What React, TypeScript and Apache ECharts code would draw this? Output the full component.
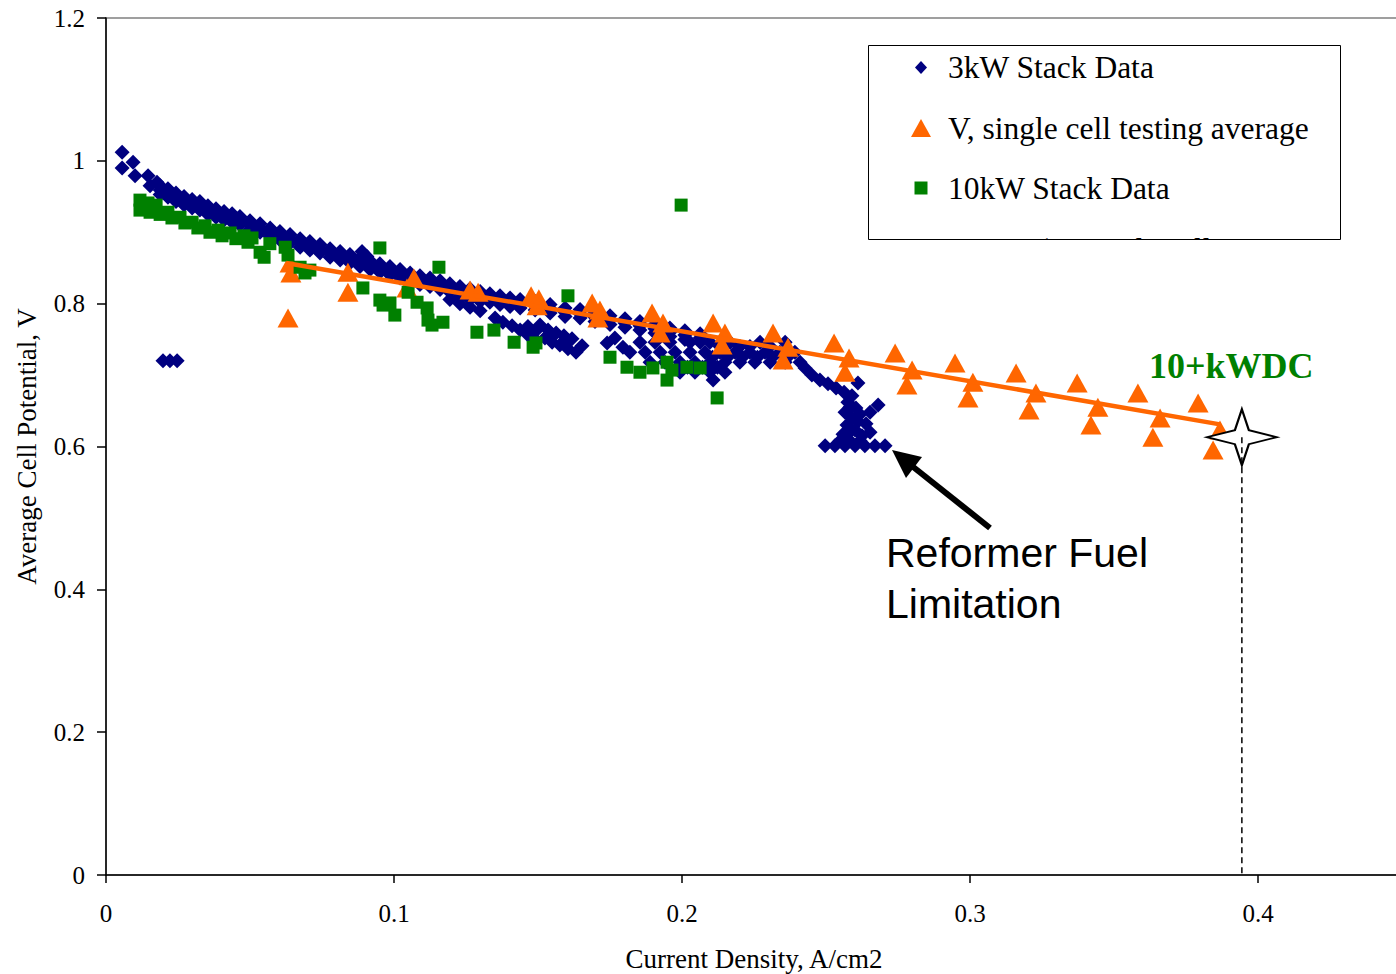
import React, { useEffect, useRef } from "react";
import * as echarts from "echarts";

// 3kW Stack Data (A/cm2, V)
const blue3kW: [number, number][] = [
  [0.0056, 1.012], [0.0056, 0.99], [0.0094, 0.998], [0.0101, 0.979], [0.0146, 0.979], [0.0153, 0.965], [0.0177, 0.97],
  [0.0198, 0.72], [0.0222, 0.72], [0.0247, 0.72],
  [0.0188, 0.965], [0.0188, 0.953], [0.0215, 0.961], [0.0215, 0.949], [0.0243, 0.955], [0.0243, 0.943],
  [0.0271, 0.95], [0.0271, 0.938], [0.0299, 0.946], [0.0299, 0.934], [0.0326, 0.943], [0.0326, 0.931],
  [0.0354, 0.937], [0.0354, 0.925], [0.0382, 0.933], [0.0382, 0.921], [0.041, 0.929], [0.041, 0.917],
  [0.0438, 0.926], [0.0438, 0.914], [0.0465, 0.922], [0.0465, 0.91], [0.05, 0.916], [0.05, 0.904],
  [0.0535, 0.912], [0.0535, 0.9], [0.057, 0.906], [0.057, 0.894], [0.0604, 0.901], [0.0604, 0.889],
  [0.0639, 0.897], [0.0639, 0.885], [0.0674, 0.891], [0.0674, 0.879], [0.0708, 0.887], [0.0708, 0.875],
  [0.0743, 0.883], [0.0743, 0.871], [0.0778, 0.877], [0.0778, 0.865], [0.0813, 0.873], [0.0813, 0.861],
  [0.0847, 0.869], [0.0847, 0.857], [0.0882, 0.864], [0.0882, 0.852], [0.0889, 0.873], [0.0906, 0.866],
  [0.0917, 0.86], [0.0917, 0.848], [0.0951, 0.856], [0.0951, 0.844], [0.0986, 0.852], [0.0986, 0.84],
  [0.1021, 0.848], [0.1021, 0.836], [0.1056, 0.843], [0.1056, 0.831], [0.109, 0.839], [0.109, 0.827],
  [0.1125, 0.836], [0.1125, 0.824], [0.116, 0.832], [0.116, 0.82], [0.1194, 0.828], [0.1194, 0.816], [0.1194, 0.806],
  [0.1229, 0.824], [0.1229, 0.81], [0.1229, 0.8], [0.1264, 0.821], [0.1264, 0.806], [0.1264, 0.795],
  [0.1299, 0.817], [0.1299, 0.803], [0.1299, 0.79],
  [0.0188, 0.959], [0.0215, 0.955], [0.0243, 0.949], [0.0271, 0.944], [0.0299, 0.94], [0.0326, 0.937],
  [0.0354, 0.931], [0.0382, 0.927], [0.041, 0.923], [0.0438, 0.92], [0.0465, 0.916], [0.05, 0.91],
  [0.0535, 0.906], [0.057, 0.9], [0.0604, 0.895], [0.0639, 0.891], [0.0674, 0.885], [0.0708, 0.881],
  [0.0743, 0.877], [0.0778, 0.871], [0.0813, 0.867], [0.0847, 0.863], [0.0882, 0.858], [0.0917, 0.854],
  [0.0951, 0.85], [0.0986, 0.846], [0.1021, 0.842], [0.1056, 0.837], [0.109, 0.833], [0.1125, 0.83],
  [0.116, 0.826], [0.1194, 0.822], [0.1229, 0.817], [0.1264, 0.813], [0.1299, 0.81],
  [0.1333, 0.808], [0.1368, 0.805], [0.1403, 0.802], [0.1438, 0.8], [0.149, 0.797], [0.1542, 0.793],
  [0.1594, 0.788], [0.1646, 0.786], [0.1698, 0.781], [0.175, 0.777], [0.1802, 0.773], [0.1854, 0.769],
  [0.1906, 0.765], [0.1958, 0.76], [0.201, 0.756], [0.2063, 0.752],
  [0.1333, 0.814], [0.1333, 0.802], [0.1368, 0.811], [0.1368, 0.799], [0.1403, 0.808], [0.1403, 0.796],
  [0.1438, 0.806], [0.1438, 0.794], [0.149, 0.803], [0.149, 0.791], [0.1542, 0.799], [0.1542, 0.787],
  [0.1594, 0.794], [0.1594, 0.782], [0.1646, 0.792], [0.1646, 0.78], [0.1698, 0.787], [0.1698, 0.775],
  [0.175, 0.783], [0.175, 0.771], [0.1802, 0.779], [0.1802, 0.767], [0.1854, 0.775], [0.1854, 0.763],
  [0.1906, 0.771], [0.1906, 0.759], [0.1958, 0.766], [0.1958, 0.754], [0.201, 0.762], [0.201, 0.75],
  [0.2063, 0.758], [0.2063, 0.746],
  [0.1351, 0.78], [0.1378, 0.774], [0.141, 0.769], [0.1438, 0.763], [0.1465, 0.756], [0.1493, 0.749],
  [0.1524, 0.752], [0.1549, 0.746], [0.1576, 0.742], [0.1604, 0.737], [0.1632, 0.732], [0.1653, 0.741],
  [0.1507, 0.77], [0.1535, 0.763], [0.1563, 0.759], [0.159, 0.755], [0.1618, 0.751],
  [0.1465, 0.768], [0.1493, 0.762], [0.1549, 0.756], [0.1604, 0.748],
  [0.174, 0.745], [0.1767, 0.752], [0.1795, 0.739],
  [0.1854, 0.746], [0.1906, 0.746], [0.1958, 0.746], [0.2028, 0.746], [0.2097, 0.746], [0.2167, 0.746], [0.2271, 0.746], [0.2358, 0.746],
  [0.2132, 0.74], [0.2201, 0.74], [0.2236, 0.74], [0.2306, 0.74],
  [0.1819, 0.732], [0.1872, 0.732], [0.1924, 0.732], [0.1976, 0.732], [0.2028, 0.732], [0.208, 0.732],
  [0.2132, 0.732], [0.2184, 0.732], [0.2236, 0.732], [0.2288, 0.732], [0.234, 0.732], [0.2392, 0.732],
  [0.2106, 0.725], [0.2158, 0.725], [0.221, 0.725], [0.2262, 0.725], [0.2314, 0.725], [0.2366, 0.725],
  [0.1889, 0.718], [0.1941, 0.718], [0.1993, 0.718], [0.2045, 0.718], [0.2097, 0.718], [0.2149, 0.718],
  [0.2201, 0.718], [0.2253, 0.718], [0.2306, 0.718], [0.2358, 0.718], [0.241, 0.718],
  [0.2019, 0.711], [0.2071, 0.711], [0.2123, 0.711],
  [0.1993, 0.704], [0.2045, 0.704], [0.2097, 0.704], [0.2149, 0.704], [0.2108, 0.693],
  [0.2427, 0.71], [0.2451, 0.7], [0.2479, 0.693], [0.2507, 0.688], [0.2535, 0.682], [0.2563, 0.676],
  [0.259, 0.671], [0.2611, 0.689], [0.2576, 0.662], [0.2604, 0.654], [0.2566, 0.648], [0.259, 0.64],
  [0.2618, 0.645], [0.2573, 0.63], [0.2601, 0.623], [0.2559, 0.617], [0.2625, 0.615], [0.2681, 0.658],
  [0.2653, 0.648], [0.2639, 0.632], [0.2653, 0.62], [0.2583, 0.655], [0.2611, 0.635], [0.2587, 0.622],
  [0.2497, 0.601], [0.2531, 0.601], [0.2566, 0.601], [0.2601, 0.601], [0.2635, 0.601], [0.267, 0.601], [0.2705, 0.601],
  [0.2549, 0.608], [0.2583, 0.608], [0.2618, 0.608],
];

// V, single cell testing average
const orangeSingle: [number, number][] = [
  [0.0632, 0.78], [0.0639, 0.857], [0.0642, 0.843], [0.084, 0.844], [0.084, 0.816],
  [0.1069, 0.836], [0.1045, 0.822], [0.1264, 0.819], [0.1292, 0.816],
  [0.1476, 0.811], [0.1503, 0.807], [0.1497, 0.797],
  [0.1688, 0.801], [0.1715, 0.791], [0.1708, 0.78],
  [0.1896, 0.787], [0.1934, 0.773], [0.1924, 0.759],
  [0.2108, 0.773], [0.2149, 0.759], [0.2139, 0.742],
  [0.2316, 0.759], [0.2368, 0.739], [0.2351, 0.721],
  [0.2528, 0.745], [0.258, 0.724], [0.2566, 0.704],
  [0.274, 0.731], [0.2799, 0.707], [0.2781, 0.686],
  [0.2948, 0.717], [0.301, 0.69], [0.2993, 0.668],
  [0.316, 0.703], [0.3229, 0.675], [0.3205, 0.651],
  [0.3372, 0.689], [0.3444, 0.655], [0.342, 0.63],
  [0.3583, 0.675], [0.366, 0.64], [0.3635, 0.613],
  [0.3792, 0.661], [0.3868, 0.623], [0.3844, 0.595],
];

// 10kW Stack Data
const green10kW: [number, number][] = [
  [0.0118, 0.945], [0.0118, 0.931], [0.0146, 0.941], [0.0153, 0.928], [0.0174, 0.938], [0.0188, 0.925],
  [0.0215, 0.928], [0.0229, 0.92], [0.0257, 0.921], [0.0274, 0.913], [0.0299, 0.914], [0.0319, 0.906],
  [0.0344, 0.909], [0.0361, 0.9], [0.0389, 0.903], [0.0403, 0.895], [0.0431, 0.899], [0.0451, 0.891],
  [0.0479, 0.895], [0.0493, 0.886], [0.0507, 0.892], [0.0535, 0.872], [0.0549, 0.865], [0.0569, 0.884],
  [0.0622, 0.879], [0.0632, 0.868], [0.0674, 0.851], [0.0691, 0.843], [0.0708, 0.847],
  [0.0892, 0.822], [0.0951, 0.878], [0.0951, 0.805], [0.0986, 0.801], [0.1003, 0.784], [0.0962, 0.798],
  [0.1049, 0.816], [0.108, 0.802], [0.1115, 0.794], [0.1118, 0.777], [0.1132, 0.77], [0.117, 0.774],
  [0.1156, 0.851], [0.1288, 0.76], [0.1347, 0.763], [0.1417, 0.746], [0.1483, 0.739], [0.1493, 0.745],
  [0.1604, 0.811], [0.175, 0.725], [0.1809, 0.711], [0.1854, 0.704], [0.1899, 0.71], [0.1948, 0.718],
  [0.1948, 0.693], [0.1965, 0.707], [0.2017, 0.711], [0.2063, 0.71], [0.1997, 0.938], [0.2122, 0.668],
];

// Linear (V, single cell testing average)
const trendLine: [number, number][] = [[0.0625, 0.857], [0.3868, 0.631]];
// 10+kWDC target point and its drop line
const targetPoint: [number, number][] = [[0.3944, 0.613]];
const dropLine: [number, number][] = [[0.3944, 0.613], [0.3944, 0]];

const legendNames = ["3kW Stack Data", "V, single cell testing average", "10kW Stack Data", "Linear (V, single cell testing average)"];

const SERIF = "'Liberation Serif', 'Times New Roman', serif";
const SANS = "'Liberation Sans', Arial, sans-serif";

export default function App() {
  const ref = useRef<HTMLDivElement>(null);
  useEffect(() => {
    document.body.style.margin = "0";
    const chart = echarts.init(ref.current!, null, { renderer: "svg" });
    const legendY = [67.5, 128, 188, 249];
    const legendX = 948;
    const option: any = {
      animation: false,
      backgroundColor: "#ffffff",
      grid: {
        left: 106, top: 18, width: 1296, height: 857, show: true,
        borderColor: "#808080", borderWidth: 1.5, containLabel: false, outerBoundsMode: "none",
      },
      xAxis: {
        type: "value", min: 0, max: 0.45, interval: 0.1,
        splitLine: { show: false },
        axisLine: { show: true, onZero: false, lineStyle: { color: "#000", width: 1.5 } },
        axisTick: { show: true, length: 8, lineStyle: { color: "#000", width: 1.5 } },
        axisLabel: { showMaxLabel: false, margin: 26, fontSize: 25, color: "#000", fontFamily: SERIF },
        name: "Current Density, A/cm2", nameLocation: "middle", nameGap: 70,
        nameTextStyle: { fontSize: 27, color: "#000", fontFamily: SERIF },
      },
      yAxis: {
        type: "value", min: 0, max: 1.2, interval: 0.2,
        splitLine: { show: false },
        axisLine: { show: true, onZero: false, lineStyle: { color: "#000", width: 1.5 } },
        axisTick: { show: true, length: 9, lineStyle: { color: "#000", width: 1.5 } },
        axisLabel: { margin: 21, fontSize: 25, color: "#000", fontFamily: SERIF },
        name: "Average Cell Potential, V", nameLocation: "middle", nameGap: 66,
        nameTextStyle: { fontSize: 27, color: "#000", fontFamily: SERIF },
      },
      series: [
        { name: legendNames[0], type: "scatter", data: blue3kW, symbol: "diamond", symbolSize: 15, itemStyle: { color: "#000080", opacity: 1 }, z: 2, silent: true },
        { name: legendNames[1], type: "scatter", data: orangeSingle, symbol: "triangle", symbolSize: [21, 19], itemStyle: { color: "#FF6600", opacity: 1 }, z: 3, silent: true },
        { name: legendNames[2], type: "scatter", data: green10kW, symbol: "rect", symbolSize: 13, itemStyle: { color: "#008000", opacity: 1 }, z: 4, silent: true },
        { name: legendNames[3], type: "line", data: trendLine, showSymbol: false, symbol: "none", lineStyle: { color: "#FF6600", width: 4.5, opacity: 1 }, z: 5, silent: true },
        {
          type: "scatter", data: targetPoint, z: 6, silent: true,
          symbol: "path://M35,0 L42,21 L70,28 L42,35 L35,56 L28,35 L0,28 L28,21 Z",
          symbolSize: [70, 56],
          itemStyle: { color: "#ffffff", borderColor: "#000", borderWidth: 2, opacity: 1 },
        },
        { type: "line", data: dropLine, showSymbol: false, symbol: "none", lineStyle: { color: "#000", width: 1.5, type: [6, 4] }, z: 7, silent: true },
      ],
      graphic: [
        // legend
        ...legendNames.map((n, i) => ({
          type: "text", z: 100,
          x: legendX, y: legendY[i],
          style: { text: n, fontSize: 31.5, fontFamily: SERIF, fill: "#000", verticalAlign: "middle", align: "left" },
        })),
        { type: "line", z: 100, shape: { x1: 906, y1: legendY[3], x2: 936, y2: legendY[3] }, style: { stroke: "#FF6600", lineWidth: 4 } },
        { type: "polygon", z: 100, shape: { points: [[921, 61], [927, 67.5], [921, 74], [915, 67.5]] }, style: { fill: "#000080" } },
        { type: "polygon", z: 100, shape: { points: [[921, 119], [931, 137], [911, 137]] }, style: { fill: "#FF6600" } },
        { type: "rect", z: 100, shape: { x: 914.5, y: 181.5, width: 13, height: 13 }, style: { fill: "#008000" } },
        { type: "rect", z: 101, shape: { x: 869, y: 240, width: 527, height: 30 }, style: { fill: "#ffffff" } },
        { type: "rect", z: 101, shape: { x: 1341, y: 220, width: 55, height: 50 }, style: { fill: "#ffffff" } },
        { type: "rect", z: 102, shape: { x: 868.5, y: 45.5, width: 472, height: 194 }, style: { fill: "none", stroke: "#000", lineWidth: 1 } },
        // annotations
        { type: "text", z: 100, x: 1149, y: 366, style: { text: "10+kWDC", fontSize: 36, fontWeight: "bold", fontFamily: SERIF, fill: "#008000", verticalAlign: "middle" } },
        { type: "text", z: 100, x: 886, y: 553, style: { text: "Reformer Fuel", fontSize: 41, fontFamily: SANS, fill: "#000", verticalAlign: "middle" } },
        { type: "text", z: 100, x: 886, y: 604, style: { text: "Limitation", fontSize: 41, fontFamily: SANS, fill: "#000", verticalAlign: "middle" } },
        { type: "line", z: 100, shape: { x1: 990, y1: 528, x2: 912, y2: 466 }, style: { stroke: "#000", lineWidth: 6 } },
        { type: "polygon", z: 100, shape: { points: [[892, 450], [922, 457], [906, 478]] }, style: { fill: "#000" } },
      ],
    };
    chart.setOption(option);
    return () => chart.dispose();
  }, []);
  return <div ref={ref} style={{ width: 1396, height: 974 }} />;
}
